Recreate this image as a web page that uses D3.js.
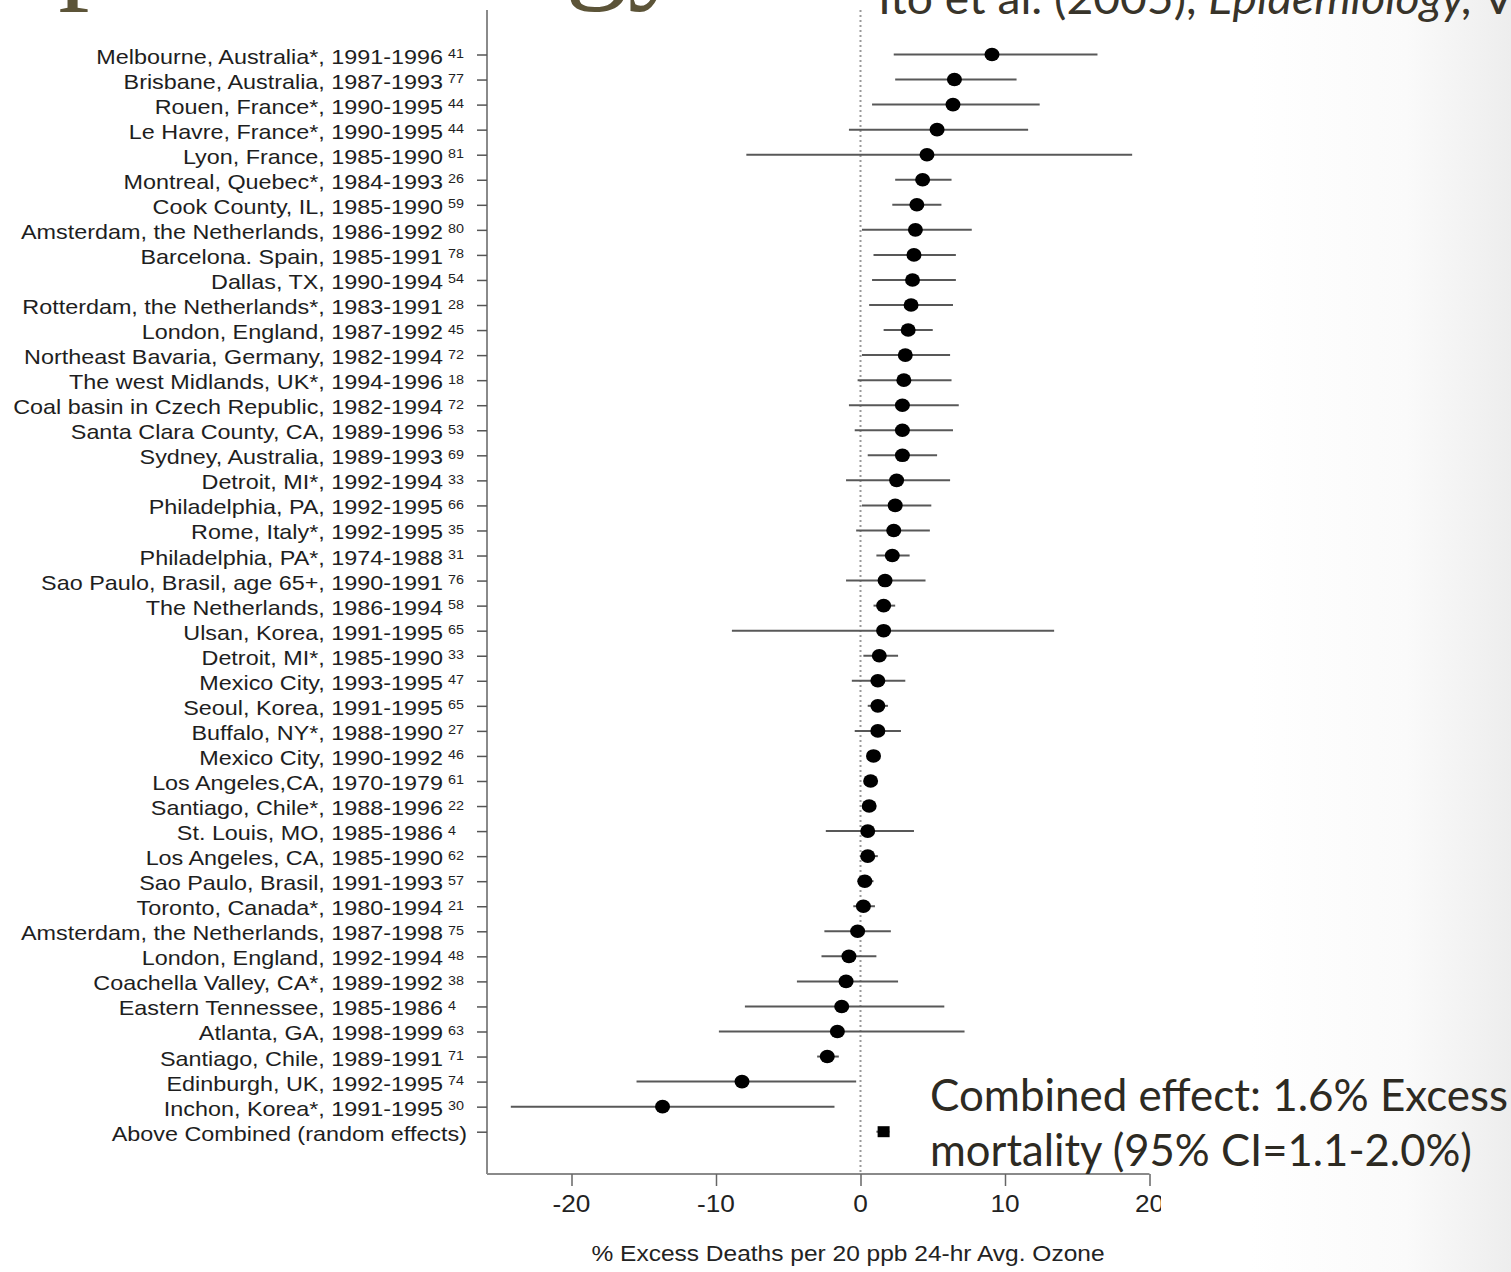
<!DOCTYPE html>
<meta charset="utf-8">
<script src="https://d3js.org/d3.v7.min.js"></script>
<style>
  body { margin: 0; background: #fff; }
</style>
<div id="chart"></div>
<script>

// studies, top to bottom
const studies = [
  "Melbourne, Australia*, 1991-1996", "Brisbane, Australia, 1987-1993", "Rouen, France*, 1990-1995",
  "Le Havre, France*, 1990-1995", "Lyon, France, 1985-1990", "Montreal, Quebec*, 1984-1993",
  "Cook County, IL, 1985-1990", "Amsterdam, the Netherlands, 1986-1992", "Barcelona. Spain, 1985-1991",
  "Dallas, TX, 1990-1994", "Rotterdam, the Netherlands*, 1983-1991", "London, England, 1987-1992",
  "Northeast Bavaria, Germany, 1982-1994", "The west Midlands, UK*, 1994-1996", "Coal basin in Czech Republic, 1982-1994",
  "Santa Clara County, CA, 1989-1996", "Sydney, Australia, 1989-1993", "Detroit, MI*, 1992-1994",
  "Philadelphia, PA, 1992-1995", "Rome, Italy*, 1992-1995", "Philadelphia, PA*, 1974-1988",
  "Sao Paulo, Brasil, age 65+, 1990-1991", "The Netherlands, 1986-1994", "Ulsan, Korea, 1991-1995",
  "Detroit, MI*, 1985-1990", "Mexico City, 1993-1995", "Seoul, Korea, 1991-1995",
  "Buffalo, NY*, 1988-1990", "Mexico City, 1990-1992", "Los Angeles,CA, 1970-1979",
  "Santiago, Chile*, 1988-1996", "St. Louis, MO, 1985-1986", "Los Angeles, CA, 1985-1990",
  "Sao Paulo, Brasil, 1991-1993", "Toronto, Canada*, 1980-1994", "Amsterdam, the Netherlands, 1987-1998",
  "London, England, 1992-1994", "Coachella Valley, CA*, 1989-1992", "Eastern Tennessee, 1985-1986",
  "Atlanta, GA, 1998-1999", "Santiago, Chile, 1989-1991", "Edinburgh, UK, 1992-1995",
  "Inchon, Korea*, 1991-1995"
];
// reference numbers printed after each label
const refs = [41, 77, 44, 44, 81, 26, 59, 80, 78, 54, 28, 45, 72, 18, 72, 53, 69, 33, 66, 35, 31,
  76, 58, 65, 33, 47, 65, 27, 46, 61, 22, 4, 62, 57, 21, 75, 48, 38, 4, 63, 71, 74, 30];
// % excess deaths and 95% CI
const est = [9.1, 6.5, 6.4, 5.3, 4.6, 4.3, 3.9, 3.8, 3.7, 3.6, 3.5, 3.3, 3.1, 3.0, 2.9, 2.9, 2.9, 2.5,
  2.4, 2.3, 2.2, 1.7, 1.6, 1.6, 1.3, 1.2, 1.2, 1.2, 0.9, 0.7, 0.6, 0.5, 0.5, 0.3, 0.2, -0.2,
  -0.8, -1.0, -1.3, -1.6, -2.3, -8.2, -13.7];
const lo = [2.3, 2.4, 0.8, -0.8, -7.9, 2.4, 2.2, 0.1, 0.9, 0.8, 0.6, 1.6, 0.1, -0.2, -0.8, -0.4, 0.5, -1.0,
  0.1, -0.3, 1.1, -1.0, 0.9, -8.9, 0.2, -0.6, 0.5, -0.4, 0.6, 0.4, 0.3, -2.4, 0.0, -0.2, -0.5, -2.5,
  -2.7, -4.4, -8.0, -9.8, -3.0, -15.5, -24.2];
const hi = [16.4, 10.8, 12.4, 11.6, 18.8, 6.3, 5.6, 7.7, 6.6, 6.6, 6.4, 5.0, 6.2, 6.3, 6.8, 6.4, 5.3, 6.2,
  4.9, 4.8, 3.4, 4.5, 2.4, 13.4, 2.6, 3.1, 1.9, 2.8, 1.3, 1.1, 0.9, 3.7, 1.2, 0.9, 1.0, 2.1,
  1.1, 2.6, 5.8, 7.2, -1.5, -0.3, -1.8];

const combinedLabel = "Above Combined (random effects)";
const combined = {est: 1.6, lo: 1.1, hi: 2.0};
const xTicks = [-20, -10, 0, 10, 20];

const W = 1511, H = 1272;
const sx = 1.14;   // the plot picture is a little stretched sideways

const svg = d3.select("#chart").append("svg")
  .attr("width", W).attr("height", H)
  .style("font-family", "'Liberation Sans', Arial, sans-serif");

const defs = svg.append("defs");
defs.append("clipPath").attr("id", "plotclip")
  .append("rect").attr("x", 0).attr("y", 0).attr("width", 1161).attr("height", H);
const grad = defs.append("linearGradient").attr("id", "edge")
  .attr("gradientUnits", "userSpaceOnUse")
  .attr("x1", 1250).attr("y1", 0).attr("x2", W).attr("y2", 0);
grad.append("stop").attr("offset", "0%").attr("stop-color", "#ffffff");
grad.append("stop").attr("offset", "60%").attr("stop-color", "#fafafa");
grad.append("stop").attr("offset", "100%").attr("stop-color", "#ededed");

svg.append("rect").attr("x", 1250).attr("y", 0).attr("width", W - 1250).attr("height", H)
  .attr("fill", "url(#edge)");

const x = d3.scaleLinear().domain([-20, 20]).range([571.5, 1149.5]);
const n = studies.length;
const y = d3.scalePoint().domain(d3.range(n + 1)).range([54.5, 1131.7]);

const plot = svg.append("g").attr("clip-path", "url(#plotclip)");
const axisLeftX = 487, axisBottomY = 1174, axisTopY = 10;

// zero reference line
plot.append("line")
  .attr("x1", x(0)).attr("x2", x(0)).attr("y1", axisTopY).attr("y2", axisBottomY)
  .attr("stroke", "#9a9a9a").attr("stroke-width", 2).attr("stroke-dasharray", "2,3");

// axes lines
plot.append("line").attr("x1", axisLeftX).attr("x2", axisLeftX).attr("y1", axisTopY).attr("y2", axisBottomY)
  .attr("stroke", "#8a8a8a").attr("stroke-width", 2);
plot.append("line").attr("x1", axisLeftX).attr("x2", x(20)).attr("y1", axisBottomY).attr("y2", axisBottomY)
  .attr("stroke", "#8a8a8a").attr("stroke-width", 2);

// y ticks
const yAxis = plot.append("g").attr("transform", `translate(${axisLeftX},0)`)
  .call(d3.axisLeft(y).tickSize(10).tickFormat(""));
yAxis.select(".domain").remove();
yAxis.selectAll("line").attr("stroke", "#555").attr("stroke-width", 1.5);

// x ticks
const xAxis = plot.append("g").attr("transform", `translate(0,${axisBottomY})`)
  .call(d3.axisBottom(x).tickValues(xTicks).tickSize(12).tickFormat(""));
xAxis.select(".domain").remove();
xAxis.selectAll("line").attr("stroke", "#666").attr("stroke-width", 1.5);

plot.selectAll("text.xtick")
  .data(xTicks)
  .join("text")
  .attr("class", "xtick")
  .attr("transform", d => `translate(${x(d)},${axisBottomY + 38}) scale(${sx},1)`)
  .attr("text-anchor", "middle")
  .style("font-size", "23px")
  .attr("fill", "#222")
  .text(d => d);

plot.append("text")
  .attr("transform", `translate(848,1261) scale(${sx},1)`)
  .attr("text-anchor", "middle")
  .style("font-size", "21.5px")
  .attr("fill", "#222")
  .text("% Excess Deaths per 20 ppb 24-hr Avg. Ozone");

// row labels
plot.selectAll("text.study")
  .data(studies)
  .join("text")
  .attr("class", "study")
  .attr("transform", (d, i) => `translate(443,${y(i) + 9}) scale(${sx},1)`)
  .attr("text-anchor", "end")
  .style("font-size", "20.5px")
  .attr("fill", "#1e1e1e")
  .text(d => d);

plot.selectAll("text.ref")
  .data(refs)
  .join("text")
  .attr("class", "ref")
  .attr("transform", (d, i) => `translate(448,${y(i) + 3.5}) scale(${sx},1)`)
  .style("font-size", "12.6px")
  .attr("fill", "#1e1e1e")
  .text(d => d);

plot.append("text")
  .attr("transform", `translate(467,${y(n) + 9}) scale(${sx},1)`)
  .attr("text-anchor", "end")
  .style("font-size", "20.5px")
  .attr("fill", "#1e1e1e")
  .text(combinedLabel);

// confidence intervals and estimates
const idx = d3.range(n);
plot.selectAll("line.ci")
  .data(idx)
  .join("line")
  .attr("class", "ci")
  .attr("x1", i => x(lo[i])).attr("x2", i => x(hi[i]))
  .attr("y1", i => y(i)).attr("y2", i => y(i))
  .attr("stroke", "#585858").attr("stroke-width", 2);

plot.selectAll("ellipse.pt")
  .data(idx)
  .join("ellipse")
  .attr("class", "pt")
  .attr("cx", i => x(est[i])).attr("cy", i => y(i))
  .attr("rx", 7.5).attr("ry", 6.8)
  .attr("fill", "#000");

plot.append("line")
  .attr("x1", x(combined.lo)).attr("x2", x(combined.hi))
  .attr("y1", y(n)).attr("y2", y(n))
  .attr("stroke", "#585858").attr("stroke-width", 2);
plot.append("rect")
  .attr("x", x(combined.est) - 6).attr("y", y(n) - 5.5)
  .attr("width", 12).attr("height", 11)
  .attr("fill", "#000");

// slide texts around the picture
svg.append("text")
  .attr("x", -18).attr("y", -15)
  .style("font-family", "'Liberation Serif', 'DejaVu Serif', serif")
  .style("font-size", "125px")
  .attr("fill", "#5c5438")
  .text("Epidemiology");

const cite = svg.append("text")
  .attr("x", 878).attr("y", 14)
  .attr("textLength", 636).attr("lengthAdjust", "spacingAndGlyphs")
  .style("font-family", "Lato, 'Open Sans', sans-serif")
  .style("font-size", "45px")
  .attr("fill", "#38342a");
cite.append("tspan").text("Ito et al. (2005), ");
cite.append("tspan").style("font-style", "italic").text("Epidemiology,");
cite.append("tspan").text(" V");

const note = ["Combined effect: 1.6% Excess", "mortality (95% CI=1.1-2.0%)"];
const noteLen = [578, 542];
svg.selectAll("text.note")
  .data(note)
  .join("text")
  .attr("class", "note")
  .attr("x", 930)
  .attr("y", (d, i) => 1111 + i * 55)
  .attr("textLength", (d, i) => noteLen[i]).attr("lengthAdjust", "spacingAndGlyphs")
  .style("font-family", "Lato, 'Open Sans', sans-serif")
  .style("font-size", "44px")
  .attr("fill", "#2d2a22")
  .text(d => d);

</script>
